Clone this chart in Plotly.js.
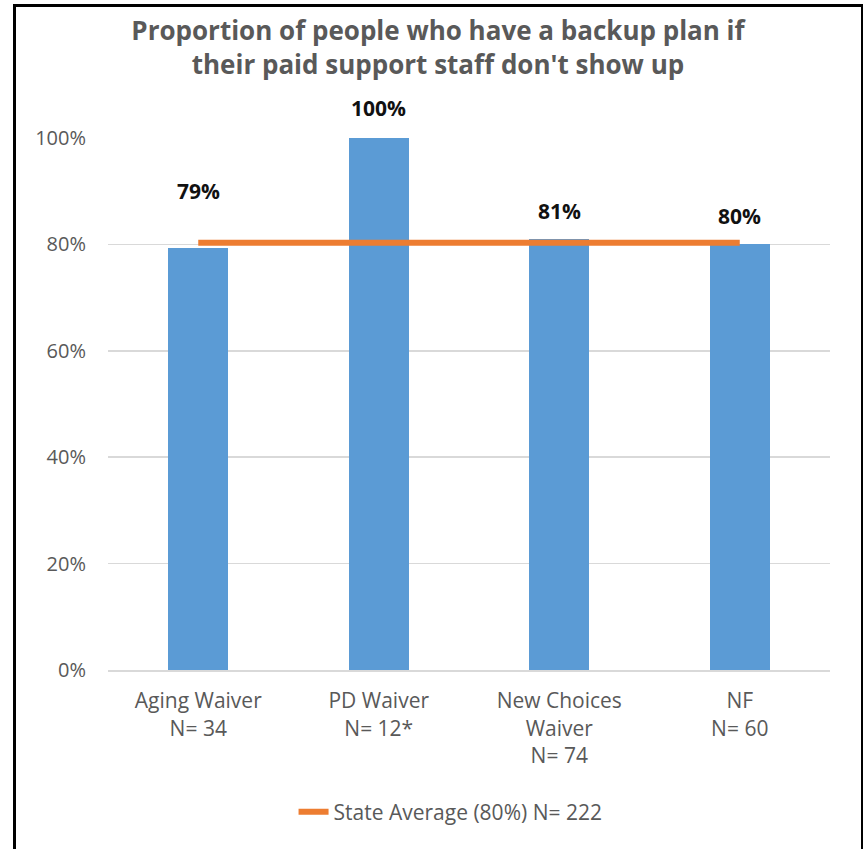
<!DOCTYPE html>
<html>
<head>
<meta charset="utf-8">
<script src="https://cdn.plot.ly/plotly-3.0.1.min.js"></script>
<style>
  html, body { margin: 0; padding: 0; background: #fff; }
  #wrap { position: relative; width: 863px; height: 849px; overflow: hidden; }
  #chart { position: absolute; left: 0; top: 0; width: 863px; height: 849px; }
  #frame { position: absolute; left: 13px; top: 4px; width: 845px; height: 860px;
           border: 3px solid #000; border-bottom: none; box-sizing: content-box; pointer-events: none; }
</style>
</head>
<body>
<div id="wrap">
  <div id="chart"></div>
  <div id="frame"></div>
</div>
<script>
// ---- data ----
var categories = ["Aging Waiver<br>N= 34", "PD Waiver<br>N= 12*", "New Choices<br>Waiver<br>N= 74", "NF<br>N= 60"];
var values = [0.794, 1.0, 0.81, 0.80];
var valueLabels = ["79%", "100%", "81%", "80%"];
var stateAverage = 0.803;
var stateAverageName = "State Average (80%) N= 222";
var yTickVals = [0, 0.2, 0.4, 0.6, 0.8, 1.0];
var yTickText = ["0%", "20%", "40%", "60%", "80%", "100%"];
var titleText = "Proportion of people who have a backup plan if<br>their paid support staff don't show up";

// ---- style ----
var labelShift = [57, 30, 28, 28];
var fontFam = "'Open Sans', 'Liberation Sans', sans-serif";

var bars = {
  type: "bar",
  x: categories,
  y: values,
  width: 1/3,
  marker: { color: "#5B9BD5" },
  showlegend: false,
  hoverinfo: "skip"
};

var avgLine = {
  type: "scatter",
  mode: "lines",
  x: categories,
  y: categories.map(function () { return stateAverage; }),
  name: stateAverageName,
  line: { color: "#ED7D31", width: 6 },
  hoverinfo: "skip"
};

var annotations = categories.map(function (c, i) {
  return {
    x: c, y: values[i], xref: "x", yref: "y",
    text: "<b>" + valueLabels[i] + "</b>",
    showarrow: false, yanchor: "middle", yshift: labelShift[i],
    font: { family: fontFam, size: 21, color: "#111" }
  };
});

var layout = {
  width: 863, height: 849,
  margin: { l: 108, r: 33, t: 138, b: 179 },
  paper_bgcolor: "#fff", plot_bgcolor: "#fff",
  font: { family: fontFam, color: "#595959", size: 20 },
  title: {
    text: "<b>" + titleText + "</b>",
    font: { family: fontFam, size: 26, color: "#595959" },
    x: 0.5075, xref: "container", xanchor: "center",
    y: 0.953, yref: "container", yanchor: "top"
  },
  xaxis: {
    type: "category",
    showgrid: false, zeroline: false,
    showline: true, linecolor: "#D9D9D9", linewidth: 2,
    ticks: "", tickfont: { family: fontFam, size: 21, color: "#595959" },
    ticklabelstandoff: 11,
    fixedrange: true
  },
  yaxis: {
    range: [0, 1.0001],
    tickvals: yTickVals, ticktext: yTickText,
    showgrid: true, gridcolor: "#D9D9D9", gridwidth: 1.5,
    zeroline: false, showline: false, ticks: "",
    tickfont: { family: fontFam, size: 20, color: "#595959" },
    ticklabelstandoff: 21,
    fixedrange: true
  },
  showlegend: true,
  legend: {
    orientation: "h", x: 0.257, xanchor: "left", y: -0.267, yanchor: "middle",
    font: { family: fontFam, size: 21, color: "#595959" },
    bgcolor: "rgba(0,0,0,0)"
  },
  annotations: annotations,
  bargap: 0
};

Plotly.newPlot("chart", [bars, avgLine], layout, { displayModeBar: false, staticPlot: true });
</script>
</body>
</html>
